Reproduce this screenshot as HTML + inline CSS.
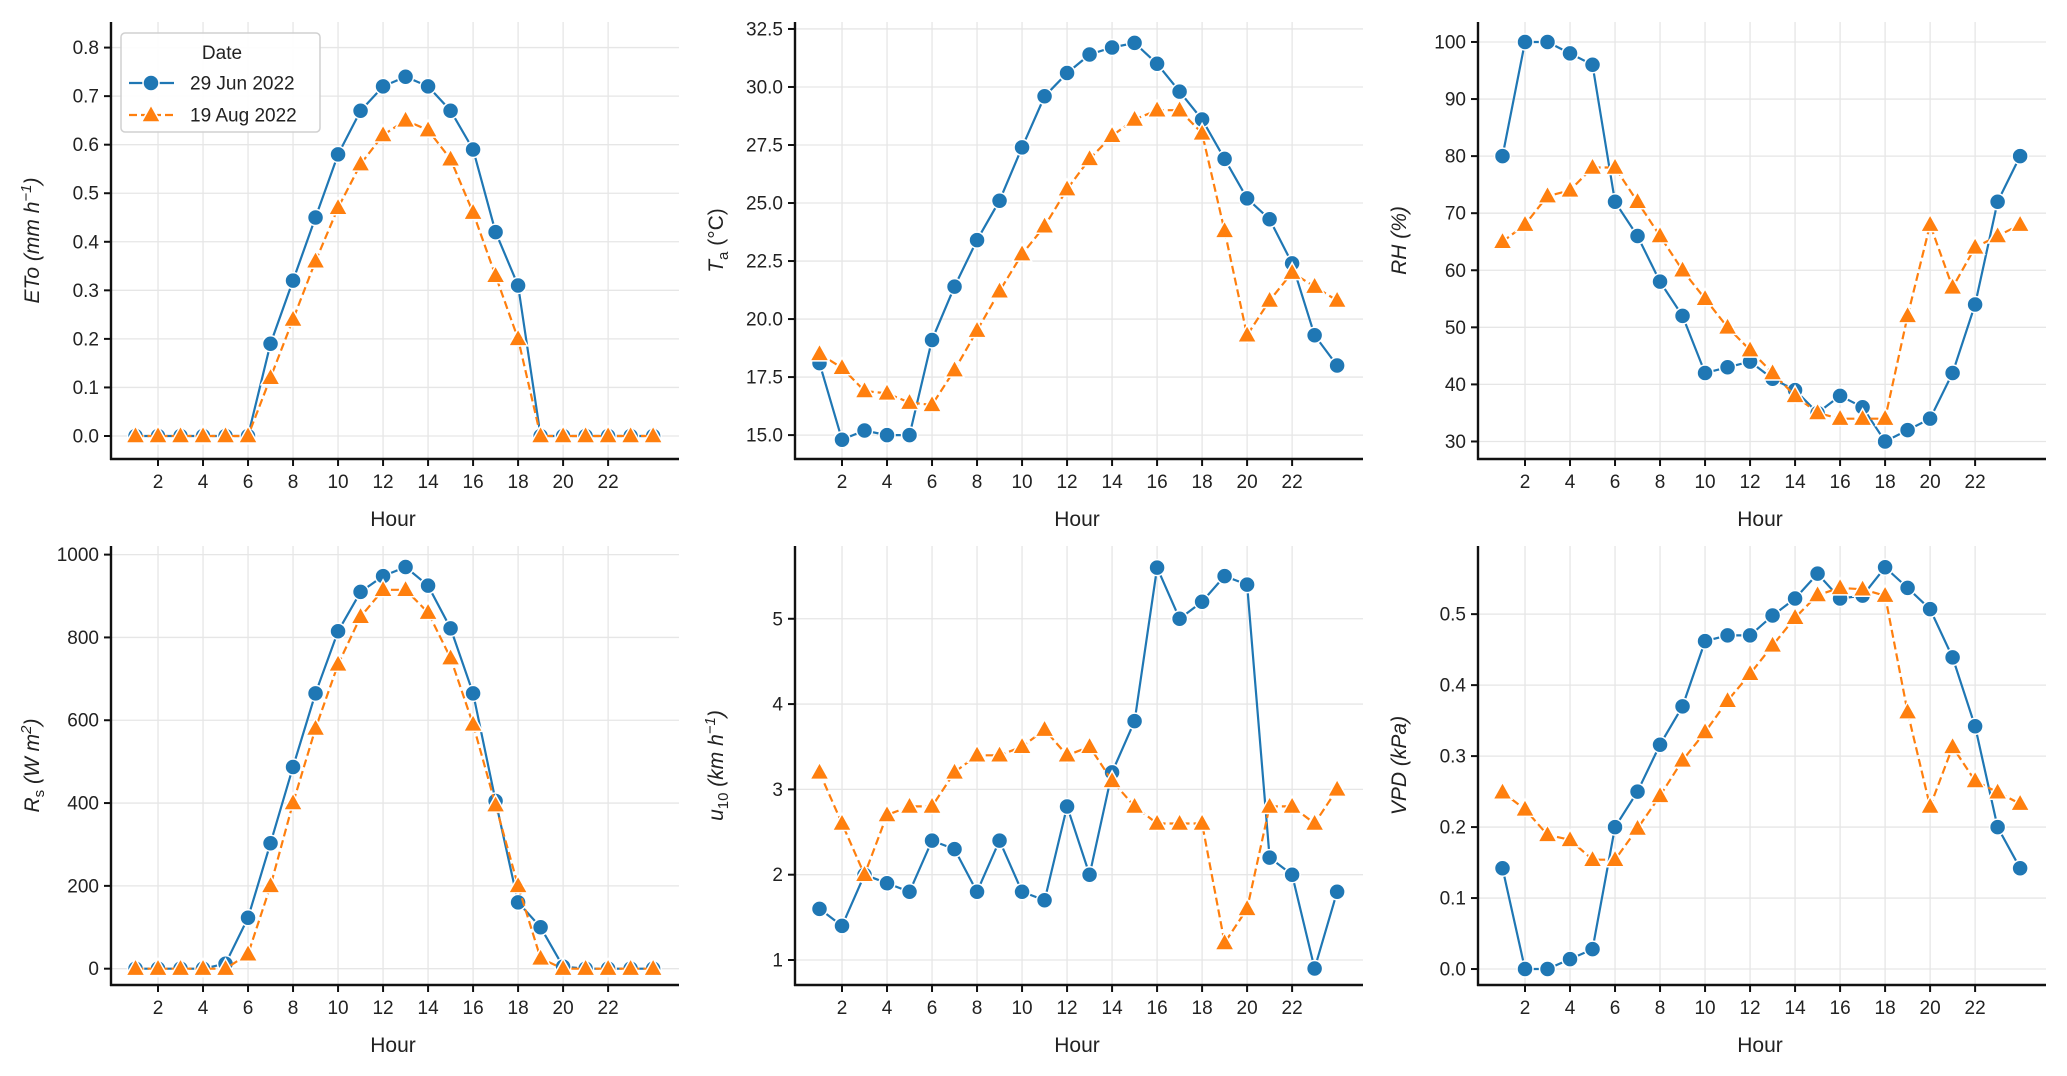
<!DOCTYPE html>
<html><head><meta charset="utf-8"><style>
html,body{margin:0;padding:0;background:#fff}
svg{display:block;font-family:"Liberation Sans",Arial,sans-serif}
</style></head><body>
<svg id="fig" width="2067" height="1076" viewBox="0 0 2067 1076" xmlns="http://www.w3.org/2000/svg"></svg>
<script>
const hours = [1,2,3,4,5,6,7,8,9,10,11,12,13,14,15,16,17,18,19,20,21,22,23,24];
const xTicks = [2,4,6,8,10,12,14,16,18,20,22];
const seriesNames = ["29 Jun 2022","19 Aug 2022"];

const etoJun = [0,0,0,0,0,0,0.19,0.32,0.45,0.58,0.67,0.72,0.74,0.72,0.67,0.59,0.42,0.31,0,0,0,0,0,0];
const etoAug = [0,0,0,0,0,0,0.12,0.24,0.36,0.47,0.56,0.62,0.65,0.63,0.57,0.46,0.33,0.20,0,0,0,0,0,0];
const etoTicks = [0.0,0.1,0.2,0.3,0.4,0.5,0.6,0.7,0.8];

const taJun = [18.1,14.8,15.2,15.0,15.0,19.1,21.4,23.4,25.1,27.4,29.6,30.6,31.4,31.7,31.9,31.0,29.8,28.6,26.9,25.2,24.3,22.4,19.3,18.0];
const taAug = [18.5,17.9,16.9,16.8,16.4,16.3,17.8,19.5,21.2,22.8,24.0,25.6,26.9,27.9,28.6,29.0,29.0,28.0,23.8,19.3,20.8,22.0,21.4,20.8];
const taTicks = [15.0,17.5,20.0,22.5,25.0,27.5,30.0,32.5];

const rhJun = [80,100,100,98,96,72,66,58,52,42,43,44,41,39,35,38,36,30,32,34,42,54,72,80];
const rhAug = [65,68,73,74,78,78,72,66,60,55,50,46,42,38,35,34,34,34,52,68,57,64,66,68];
const rhTicks = [30,40,50,60,70,80,90,100];

const rsJun = [0,0,0,0,12,123,303,487,665,815,910,948,970,925,822,665,405,160,100,5,0,0,0,0];
const rsAug = [0,0,0,0,0,35,200,400,580,735,850,915,915,860,750,590,395,200,25,0,0,0,0,0];
const rsTicks = [0,200,400,600,800,1000];

const uJun = [1.6,1.4,2.0,1.9,1.8,2.4,2.3,1.8,2.4,1.8,1.7,2.8,2.0,3.2,3.8,5.6,5.0,5.2,5.5,5.4,2.2,2.0,0.9,1.8];
const uAug = [3.2,2.6,2.0,2.7,2.8,2.8,3.2,3.4,3.4,3.5,3.7,3.4,3.5,3.1,2.8,2.6,2.6,2.6,1.2,1.6,2.8,2.8,2.6,3.0];
const uTicks = [1,2,3,4,5];

const vpdJun = [0.142,0,0,0.014,0.028,0.20,0.25,0.316,0.37,0.462,0.47,0.47,0.498,0.522,0.557,0.522,0.526,0.566,0.537,0.507,0.439,0.342,0.20,0.142];
const vpdAug = [0.249,0.225,0.189,0.182,0.154,0.154,0.198,0.244,0.294,0.334,0.378,0.416,0.456,0.495,0.527,0.537,0.535,0.526,0.362,0.229,0.313,0.265,0.249,0.233];
const vpdTicks = [0.0,0.1,0.2,0.3,0.4,0.5];

const NS = "http://www.w3.org/2000/svg";
const svg = document.getElementById("fig");
const BLUE = "#1f77b4", ORANGE = "#ff7f0e";
function mk(tag, attrs, parent){
  const e = document.createElementNS(NS, tag);
  for (const k in attrs) e.setAttribute(k, attrs[k]);
  (parent||svg).appendChild(e);
  return e;
}

const panels = [
  {key:"eto", L:111, T:22, B:459, ymin:-0.0474, ymax:0.8527, ticks:etoTicks, dec:1, a:etoJun, b:etoAug, label:[["ETo (mm h",""],["−1","sup"],[")",""]], italic:true, legend:true},
  {key:"ta", L:795, T:22, B:459, ymin:13.97, ymax:32.80, ticks:taTicks, dec:1, a:taJun, b:taAug, label:[["T","i"],["a","sub"],[" (°C)",""]]},
  {key:"rh", L:1478, T:22, B:459, ymin:26.93, ymax:103.5, ticks:rhTicks, dec:0, a:rhJun, b:rhAug, label:[["RH (%)","i"]]},
  {key:"rs", L:111, T:546, B:985, ymin:-39.4, ymax:1020.8, ticks:rsTicks, dec:0, a:rsJun, b:rsAug, label:[["R","i"],["s","sub"],[" (W m","i"],["2","sup"],[")","i"]]},
  {key:"u10", L:795, T:546, B:985, ymin:0.707, ymax:5.853, ticks:uTicks, dec:0, a:uJun, b:uAug, label:[["u","i"],["10","sub"],[" (km h","i"],["−1","sup"],[")","i"]]},
  {key:"vpd", L:1478, T:546, B:985, ymin:-0.0225, ymax:0.596, ticks:vpdTicks, dec:1, a:vpdJun, b:vpdAug, label:[["VPD (kPa)","i"]]}
];
const W = 568, XMIN = -0.089, XMAX = 25.15;

panels.forEach(p => {
  const g = mk("g", {});
  
  
  const xs = h => p.L + (h - XMIN) / (XMAX - XMIN) * W;
  const ys = v => p.B - (v - p.ymin) / (p.ymax - p.ymin) * (p.B - p.T);
  xTicks.forEach(t => {
    const l = mk("line", {x1:xs(t), x2:xs(t), y1:p.T, y2:p.B, stroke:"#e6e6e6", "stroke-width":1.3}, g);
    
    
  });
  p.ticks.forEach(t => {
    const l = mk("line", {x1:p.L, x2:p.L+W, y1:ys(t), y2:ys(t), stroke:"#e6e6e6", "stroke-width":1.3}, g);
    
    
  });
  const sp1 = mk("line", {x1:p.L, x2:p.L, y1:p.T, y2:p.B+1, stroke:"#111", "stroke-width":2.4}, g);
  
  
  const sp2 = mk("line", {x1:p.L-1, x2:p.L+W, y1:p.B, y2:p.B, stroke:"#111", "stroke-width":2.4}, g);
  
  
  xTicks.forEach(t => {
    mk("line", {x1:xs(t), x2:xs(t), y1:p.B, y2:p.B+7, stroke:"#111", "stroke-width":2}, g);
    const tx = mk("text", {x:xs(t), y:p.B+29, "text-anchor":"middle", "font-size":19, fill:"#222"}, g);
    tx.textContent = t;
    
    
  });
  const xl = mk("text", {x:p.L+W/2-2, y:p.B+67, "text-anchor":"middle", "font-size":21, fill:"#222"}, g);
  xl.textContent = "Hour";
  
  
  p.ticks.forEach(t => {
    mk("line", {x1:p.L-7, x2:p.L, y1:ys(t), y2:ys(t), stroke:"#111", "stroke-width":2}, g);
    const tx = mk("text", {x:p.L-12, y:ys(t)+6.5, "text-anchor":"end", "font-size":19, fill:"#222"}, g);
    tx.textContent = t.toFixed(p.dec);
    
    
  });
  const yl = mk("text", {transform:`translate(${p.L-72},${(p.T+p.B)/2}) rotate(-90)`, "text-anchor":"middle", "font-size":21, fill:"#222", "font-style": p.italic?"italic":"normal"}, g);
  
  
  p.label.forEach(([s, kind]) => {
    const ts = mk("tspan", {}, yl);
    ts.textContent = s;
    if (kind === "i") ts.setAttribute("font-style", "italic");
    if (kind === "sub") { ts.setAttribute("font-size", 15); ts.setAttribute("dy", 5); }
    if (kind === "sup") { ts.setAttribute("font-size", 15); ts.setAttribute("dy", -8); ts.setAttribute("font-style","italic"); }
    ts.setAttribute("data-k", kind);
  });
  const spans = yl.querySelectorAll("tspan");
  for (let i = 1; i < spans.length; i++) {
    const prev = spans[i-1].getAttribute("data-k");
    if (prev === "sub" && spans[i].getAttribute("data-k") !== "sub") spans[i].setAttribute("dy", -5);
    if (prev === "sup" && spans[i].getAttribute("data-k") !== "sup") spans[i].setAttribute("dy", 8);
  }
  const drawSeries = (vals, color, dashed, marker, name) => {
    const sg = mk("g", {}, g);
    
    
    const pts = hours.map((h, i) => xs(h).toFixed(1) + "," + ys(vals[i]).toFixed(1)).join(" ");
    const pl = mk("polyline", {points:pts, fill:"none", stroke:color, "stroke-width":2.2, "stroke-dasharray": dashed ? "8,4" : "none"}, sg);
    
    
    hours.forEach((h, i) => {
      const cx = xs(h), cy = ys(vals[i]);
      let m;
      if (marker === "circle") {
        m = mk("circle", {cx:cx, cy:cy, r:8, fill:color, stroke:"#fff", "stroke-width":1.5}, sg);
      } else {
        const r = 10;
        m = mk("polygon", {points:`${cx},${cy-r} ${cx+r*0.95},${cy+r*0.7} ${cx-r*0.95},${cy+r*0.7}`, fill:color, stroke:"#fff", "stroke-width":1.5}, sg);
      }
      
      
    });
  };
  drawSeries(p.a, BLUE, false, "circle", "series-29-jun-2022");
  drawSeries(p.b, ORANGE, true, "triangle", "series-19-aug-2022");

  if (p.legend) {
    const lg = mk("g", {}, g);
    
    
    mk("rect", {x:121, y:33, width:199, height:99, rx:4, fill:"#fff", "fill-opacity":0.9, stroke:"#d0d0d0", "stroke-width":1.5}, lg);
    const tt = mk("text", {x:222, y:59, "text-anchor":"middle", "font-size":19, fill:"#222"}, lg);
    tt.textContent = "Date";
    
    
    [[BLUE,false,"circle",83],[ORANGE,true,"triangle",115]].forEach(([c,d,mkr,yy], i) => {
      const e = mk("g", {}, lg);
      
      
      mk("line", {x1:129, x2:174, y1:yy, y2:yy, stroke:c, "stroke-width":2.2, "stroke-dasharray": d ? "8,4" : "none"}, e);
      if (mkr === "circle") mk("circle", {cx:151, cy:yy, r:8, fill:c, stroke:"#fff", "stroke-width":1.5}, e);
      else mk("polygon", {points:`151,${yy-10} ${151+9.5},${yy+7} ${151-9.5},${yy+7}`, fill:c, stroke:"#fff", "stroke-width":1.5}, e);
      const t = mk("text", {x:190, y:yy+6.5, "font-size":19, fill:"#222"}, e);
      t.textContent = seriesNames[i];
    });
  }
});
</script>
</body></html>
